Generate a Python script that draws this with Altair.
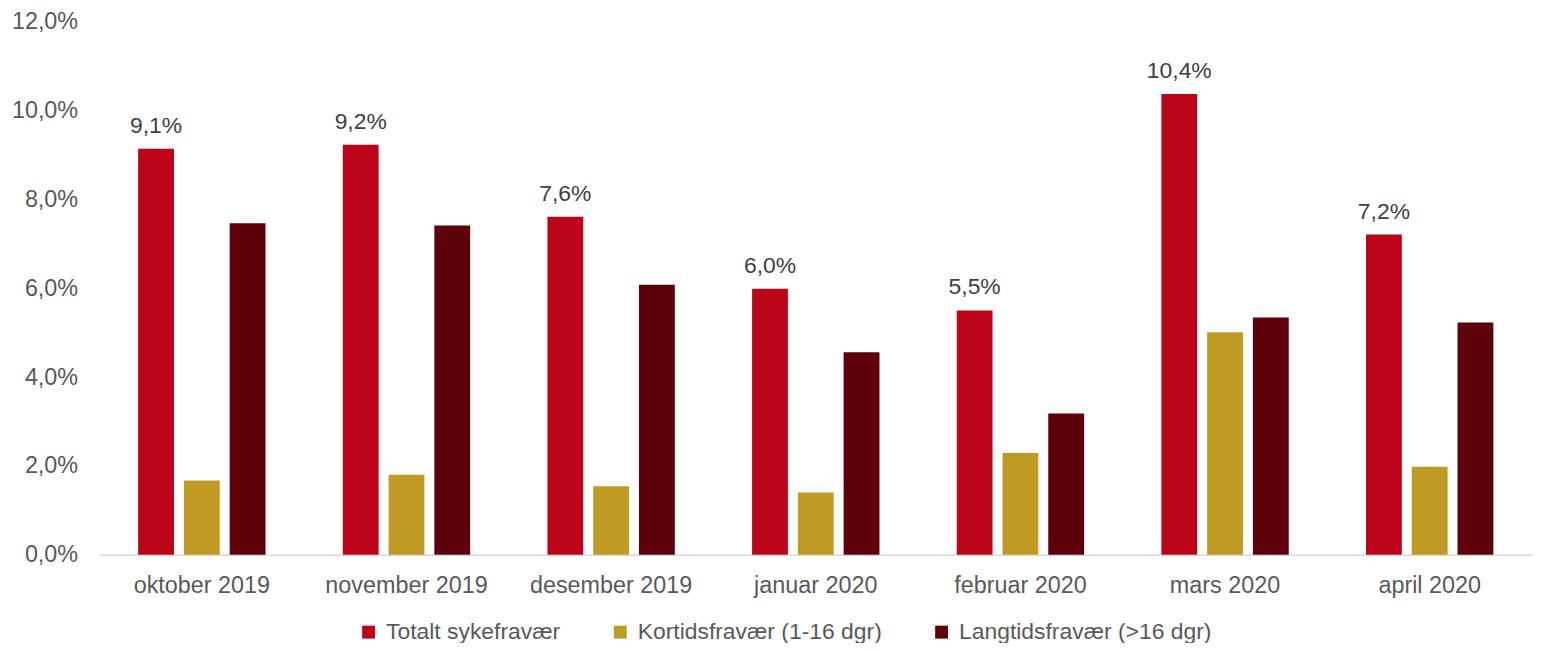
import altair as alt
import pandas as pd

months = ["oktober 2019", "november 2019", "desember 2019", "januar 2020",
          "februar 2020", "mars 2020", "april 2020"]
series = ["Totalt sykefravær", "Kortidsfravær (1-16 dgr)", "Langtidsfravær (>16 dgr)"]
totalt = [0.0914, 0.0923, 0.0761, 0.0599, 0.0550, 0.1037, 0.0721]
kortids = [0.0167, 0.0180, 0.0154, 0.0140, 0.0229, 0.0501, 0.0198]
langtids = [0.0746, 0.0741, 0.0608, 0.0456, 0.0318, 0.0534, 0.0523]
colors = ["#BD0519", "#BF9B24", "#5E000A"]

rows = []
for i, m in enumerate(months):
    for s, vals in zip(series, [totalt, kortids, langtids]):
        rows.append({"month": m, "series": s, "value": vals[i]})
df = pd.DataFrame(rows)

FONT = "Liberation Sans"
FS = 23.5

x = alt.X("month:N", sort=months, title=None,
          scale=alt.Scale(paddingInner=0.329, paddingOuter=0.1645),
          axis=alt.Axis(labelAngle=0, labelFontSize=FS, labelColor="#595959",
                        labelFont=FONT, ticks=False, domainColor="#D9D9D9",
                        domainWidth=1.5, labelPadding=19, grid=False))
xo = alt.XOffset("series:N", sort=series,
                 scale=alt.Scale(paddingInner=0.217, paddingOuter=0.1085))
y = alt.Y("value:Q", title=None,
          scale=alt.Scale(domain=[0, 0.12], nice=False),
          axis=alt.Axis(values=[0, 0.02, 0.04, 0.06, 0.08, 0.10, 0.12],
                        labelExpr="replace(format(datum.value, '.1%'), '.', ',')",
                        labelFontSize=FS, labelColor="#595959", labelFont=FONT,
                        ticks=False, domain=False, grid=False, labelPadding=22))

bars = alt.Chart(df).mark_bar().encode(
    x=x, xOffset=xo, y=y,
    color=alt.Color("series:N", sort=series,
                    scale=alt.Scale(domain=series, range=colors),
                    legend=alt.Legend(title=None, orient="none", legendX=259, legendY=602,
                                      direction="horizontal", symbolType="square",
                                      symbolSize=169, symbolStrokeWidth=0,
                                      labelFontSize=23, labelColor="#595959",
                                      labelFont=FONT, labelLimit=500,
                                      columnPadding=48, labelOffset=6)),
)

labels = alt.Chart(df).transform_filter(
    alt.datum.series == "Totalt sykefravær"
).transform_calculate(
    lab="replace(format(datum.value, '.1%'), '.', ',')"
).mark_text(baseline="alphabetic", dy=-16, fontSize=23, color="#404040", font=FONT).encode(
    x=alt.X("month:N", sort=months),
    xOffset=alt.XOffset("series:N", sort=series),
    y="value:Q",
    text="lab:N",
)

chart = alt.layer(bars, labels).properties(
    width=1440, height=536,
    autosize=alt.AutoSizeParams(type="none"),
    padding={"left": 92, "top": 12, "right": 2, "bottom": 87},
).configure(font=FONT).configure_view(stroke=None)

chart.save("out.html", embed_options={"renderer": "svg", "actions": False})
